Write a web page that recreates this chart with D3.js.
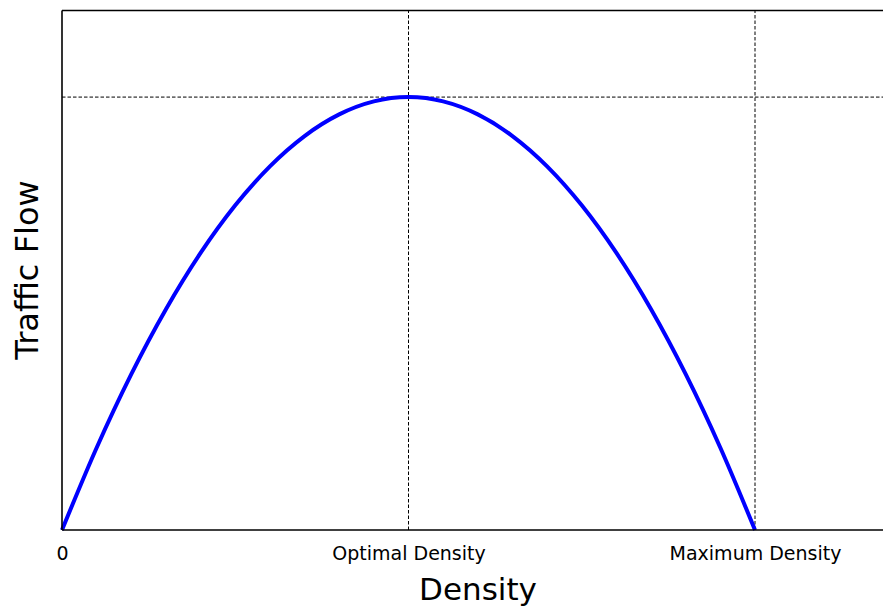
<!DOCTYPE html>
<html><head><meta charset="utf-8">
<script src="https://cdn.jsdelivr.net/npm/d3@7"></script>
<style>body{margin:0;background:#fff}svg{display:block}text{font-family:"DejaVu Sans",sans-serif}</style>
</head><body>
<script>
const density = [0,0.05,0.1,0.15,0.2,0.25,0.3,0.35,0.4,0.45,0.5,0.55,0.6,0.65,0.7,0.75,0.8,0.85,0.9,0.95,1.0];
const flow = [0,0.0475,0.09,0.1275,0.16,0.1875,0.21,0.2275,0.24,0.2475,0.25,0.2475,0.24,0.2275,0.21,0.1875,0.16,0.1275,0.09,0.0475,0];
const tickValues = [0,0.5,1.0];
const tickLabels = ["0","Optimal Density","Maximum Density"];
const optimalDensity = 0.5, maxDensity = 1.0, maxFlow = 0.25;

const W=883,H=610;
const svg=d3.select("body").append("svg").attr("width",W).attr("height",H);
const x=d3.scaleLinear().domain([0,1.2]).range([62,62+831.6]);
const y=d3.scaleLinear().domain([0,0.3]).range([530,10.5]);

const dash="3.5,2";
svg.append("line").attr("x1",x(optimalDensity)).attr("x2",x(optimalDensity)).attr("y1",y(0)).attr("y2",y(0.3))
  .attr("stroke","#000").attr("stroke-width",1).attr("stroke-dasharray",dash);
svg.append("line").attr("x1",x(maxDensity)).attr("x2",x(maxDensity)).attr("y1",y(0)).attr("y2",y(0.3))
  .attr("stroke","#000").attr("stroke-width",1).attr("stroke-dasharray",dash);
svg.append("line").attr("x1",x(0)).attr("x2",x(1.2)).attr("y1",y(maxFlow)).attr("y2",y(maxFlow))
  .attr("stroke","#000").attr("stroke-width",1).attr("stroke-dasharray",dash);

svg.append("path").datum(density.map((d,i)=>[d,flow[i]]))
  .attr("d",d3.line().x(d=>x(d[0])).y(d=>y(d[1])).curve(d3.curveMonotoneX))
  .attr("fill","none").attr("stroke","#0000ff").attr("stroke-width",4);

const g=svg.append("g").attr("fill","none").attr("stroke","#000").attr("stroke-width",1.6);
g.append("line").attr("x1",x(0)).attr("x2",x(0)).attr("y1",y(0)).attr("y2",y(0.3));
g.append("line").attr("x1",x(0)).attr("x2",x(1.2)).attr("y1",y(0)).attr("y2",y(0));
g.append("line").attr("x1",x(0)).attr("x2",x(1.2)).attr("y1",y(0.3)).attr("y2",y(0.3));
g.append("line").attr("x1",x(1.2)).attr("x2",x(1.2)).attr("y1",y(0)).attr("y2",y(0.3));

const xAxis=d3.axisBottom(x).tickValues(tickValues).tickFormat((d,i)=>tickLabels[i]).tickSize(0).tickPadding(17);
const ax=svg.append("g").attr("transform",`translate(0,${y(0)})`).call(xAxis);
ax.attr("font-size",null).attr("font-family",null);
ax.select(".domain").remove();
ax.selectAll("text").style("font-family","DejaVu Sans").style("font-size","19px").attr("fill","#000");

svg.append("text").attr("x",478).attr("y",600).attr("text-anchor","middle").style("font-size","31px").text("Density");
svg.append("text").attr("transform","translate(38,270) rotate(-90)").attr("text-anchor","middle").style("font-size","32px").text("Traffic Flow");
</script>
</body></html>
